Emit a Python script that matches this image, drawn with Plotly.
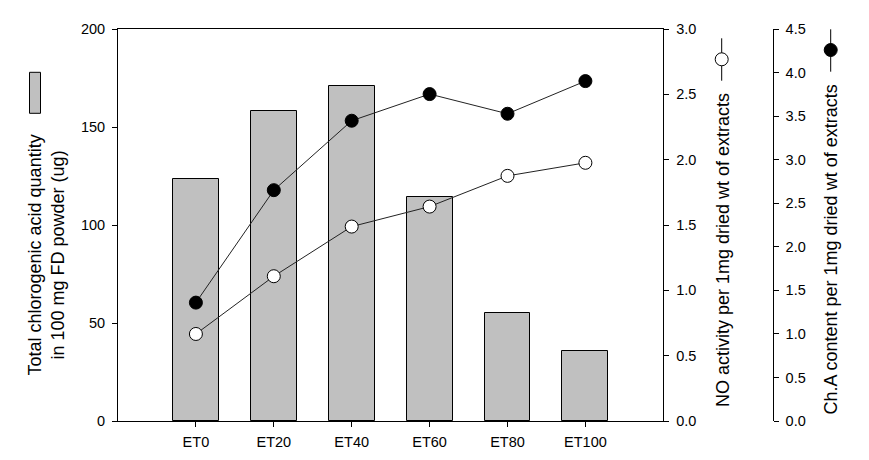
import plotly.graph_objects as go

categories = ["ET0", "ET20", "ET40", "ET60", "ET80", "ET100"]
chlorogenic_total = [123.4, 158.1, 171.1, 114.2, 55.0, 35.6]
no_activity = [0.666, 1.108, 1.488, 1.641, 1.876, 1.976]
cha_content = [1.359, 2.650, 3.447, 3.753, 3.527, 3.902]

left_ticks = [0, 50, 100, 150, 200]
no_ticks = [0.0, 0.5, 1.0, 1.5, 2.0, 2.5, 3.0]
cha_ticks = [0.0, 0.5, 1.0, 1.5, 2.0, 2.5, 3.0, 3.5, 4.0, 4.5]

W, H = 869, 460
L, R, T, B = 118, 9, 29, 39
PW, PH = W - L - R, H - T - B
AX2_X = 663.3
AX3_X = 772.7


def px(x):
    return (x - L) / PW


def py(y):
    return (H - B - y) / PH


FONT = "Arial, Liberation Sans, sans-serif"

fig = go.Figure()
fig.add_trace(go.Bar(
    x=categories, y=chlorogenic_total, width=0.59,
    marker=dict(color="#c0c0c0", line=dict(color="black", width=1)),
    yaxis="y", showlegend=False,
))
fig.add_trace(go.Scatter(
    x=categories, y=no_activity, yaxis="y2", mode="lines+markers",
    line=dict(color="#222222", width=1),
    marker=dict(symbol="circle", size=13, color="white", line=dict(color="black", width=1)),
    showlegend=False, cliponaxis=False,
))
fig.add_trace(go.Scatter(
    x=categories, y=cha_content, yaxis="y3", mode="lines+markers",
    line=dict(color="#222222", width=1),
    marker=dict(symbol="circle", size=13, color="black", line=dict(color="black", width=1)),
    showlegend=False, cliponaxis=False,
))

axis_common = dict(
    showgrid=False, zeroline=False, showline=True, linecolor="black", linewidth=1,
    ticks="outside", ticklen=5, tickcolor="black", tickwidth=1,
    tickfont=dict(family=FONT, size=14.5, color="black"),
)

fig.update_layout(
    width=W, height=H,
    margin=dict(l=L, r=R, t=T, b=B, pad=0),
    plot_bgcolor="white", paper_bgcolor="white",
    bargap=0,
    xaxis=dict(
        domain=[0, px(AX2_X)], type="category", range=[-1, 6],
        mirror=True, ticklabelstandoff=3, **axis_common,
    ),
    yaxis=dict(range=[0, 200], tickvals=left_ticks, ticktext=[str(v) for v in left_ticks],
               ticklabelstandoff=4, **axis_common),
    yaxis2=dict(range=[0, 3], overlaying="y", side="right", anchor="x",
                tickvals=no_ticks, ticktext=[f"{v:.1f}" for v in no_ticks],
                ticklabelstandoff=4, **axis_common),
    yaxis3=dict(range=[0, 4.5], overlaying="y", side="right", anchor="free",
                position=px(AX3_X),
                tickvals=cha_ticks, ticktext=[f"{v:.1f}" for v in cha_ticks],
                ticklabelstandoff=4, **axis_common),
)

title_font = dict(family=FONT, size=18, color="black")
fig.add_annotation(
    x=px(46.5), y=py(255), xref="paper", yref="paper",
    text="Total chlorogenic acid quantity<br>in 100 mg FD powder (ug)",
    textangle=-90, showarrow=False, font=title_font, align="center",
    xanchor="center", yanchor="middle",
)
fig.add_annotation(
    x=px(723), y=py(250), xref="paper", yref="paper",
    text="NO activity per 1mg dried wt of extracts",
    textangle=-90, showarrow=False, font=title_font,
    xanchor="center", yanchor="middle",
)
fig.add_annotation(
    x=px(830.5), y=py(250), xref="paper", yref="paper",
    text="Ch.A content per 1mg dried wt of extracts",
    textangle=-90, showarrow=False, font=title_font,
    xanchor="center", yanchor="middle",
)

# legend-style symbols next to axis titles
fig.add_shape(type="rect", xref="paper", yref="paper",
              x0=px(29.5), x1=px(40.5), y0=py(113.3), y1=py(72.3),
              fillcolor="#c0c0c0", line=dict(color="black", width=1))
fig.add_shape(type="line", xref="paper", yref="paper",
              x0=px(721.7), x1=px(721.7), y0=py(38.3), y1=py(80.7),
              line=dict(color="black", width=1))
fig.add_shape(type="circle", xref="paper", yref="paper",
              xsizemode="pixel", ysizemode="pixel",
              xanchor=px(721.7), yanchor=py(59.3),
              x0=-6.5, x1=6.5, y0=-6.5, y1=6.5,
              fillcolor="white", line=dict(color="black", width=1))
fig.add_shape(type="line", xref="paper", yref="paper",
              x0=px(830.7), x1=px(830.7), y0=py(29.3), y1=py(71.7),
              line=dict(color="black", width=1))
fig.add_shape(type="circle", xref="paper", yref="paper",
              xsizemode="pixel", ysizemode="pixel",
              xanchor=px(830.7), yanchor=py(50),
              x0=-6.5, x1=6.5, y0=-6.5, y1=6.5,
              fillcolor="black", line=dict(color="black", width=1))

fig.write_html("out.html")
